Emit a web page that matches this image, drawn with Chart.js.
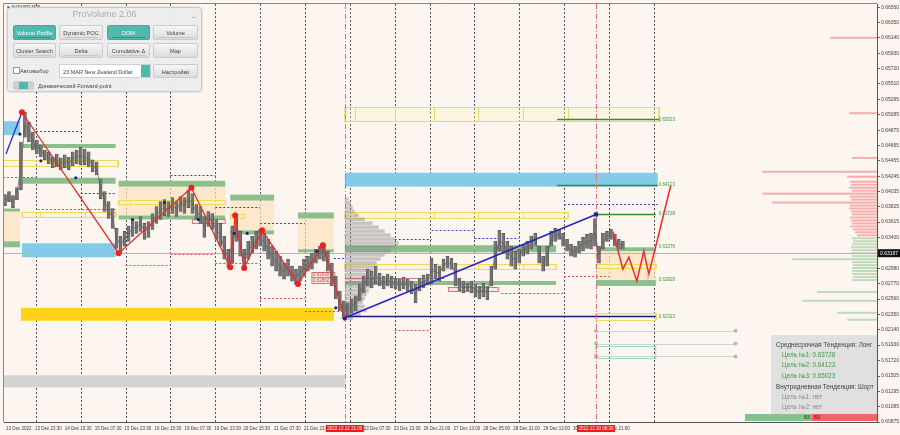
<!DOCTYPE html>
<html>
<head>
<meta charset="utf-8">
<title>AUDUSD M30 - ProVolume</title>
<script src="https://cdn.jsdelivr.net/npm/chart.js@4.4.1/dist/chart.umd.min.js"></script>
<style>
  html, body { margin: 0; padding: 0; background: #fdf5f0; }
  #wrap { position: relative; width: 900px; height: 435px; overflow: hidden; font-family: "Liberation Sans", Arial, sans-serif; }
  #chart { position: absolute; left: 0; top: 0; }

  /* ── ProVolume panel ── */
  #pv { position: absolute; left: 7px; top: 7px; width: 195px; height: 85px; background: rgba(236,236,236,0.96);
        border: 1px solid #c9c9c9; border-radius: 4px; box-shadow: 0 0 2px rgba(0,0,0,0.25); box-sizing: border-box; }
  #pv .ttl { position: absolute; left: 0; top: 1px; width: 100%; text-align: center; font-size: 9px; color: #acacac; }
  #pv .min { position: absolute; left: 184px; top: 1px; font-size: 8px; color: #999; }
  #pv .btn { position: absolute; width: 43px; height: 15px; line-height: 15px; text-align: center; font-size: 5.6px; color: #444;
             background: linear-gradient(#f6f6f6, #dcdcdc); border: 1px solid #cbcbcb; border-radius: 2px; box-sizing: border-box; }
  #pv .btn.on { background: #50b8ac; color: #fff; border-color: #48a89c; }
  #pv .btn i { position: absolute; left: 4px; right: 4px; bottom: 1px; height: 1px; background: #c8c8c8; }
  #pv .btn.on i { background: #3a8d84; }
  #pv .chk { position: absolute; width: 5px; height: 5px; background: #fff; border: 1px solid #999; }
  #pv .lbl { position: absolute; height: 8px; line-height: 8px; font-size: 5.6px; color: #444; white-space: nowrap; }
  #pv .sel { position: absolute; width: 92px; height: 14px; line-height: 14px; background: #fff; border: 1px solid #d0d0d0;
             box-sizing: border-box; font-size: 5.5px; color: #444; padding-left: 3px; }
  #pv .sel span { position: absolute; right: 0; top: 0; width: 9px; height: 12px; background: #50b8ac; }
  #pv .tog { position: absolute; width: 21px; height: 9px; background: #cfcfcf; border-radius: 2px; }
  #pv .tog span { position: absolute; left: 6px; top: 1px; width: 9px; height: 7px; background: #50b8ac; }

  /* ── trend info panel ── */
  #info { position: absolute; left: 771px; top: 335px; width: 106px; height: 79px; background: rgba(222,222,222,0.9); }
  #info div { position: absolute; white-space: nowrap; font-size: 6.3px; line-height: 8px; }
  #info .h { left: 5px; color: #404040; }
  #info .t { left: 11px; color: #3c9a3c; }
  #info .n { left: 11px; color: #8a8a8a; }

  #bal { position: absolute; left: 745px; top: 414px; width: 132px; height: 7px; }
  #bal .g { position: absolute; left: 0; top: 0; width: 67px; height: 7px; background: #86c28e; color: #2c3a2c;
            font-size: 5.5px; line-height: 7px; text-align: right; box-sizing: border-box; padding-right: 2px; }
  #bal .r { position: absolute; left: 67px; top: 0; width: 65px; height: 7px; background: #f06464; color: #6b1010;
            font-size: 5.5px; line-height: 7px; box-sizing: border-box; padding-left: 2px; }
</style>
</head>
<body>
<div id="wrap">
  <canvas id="chart" width="900" height="435"></canvas>

  <div id="pv">
    <div class="ttl">ProVolume 2.06</div><div class="min">_</div>
    <div class="btn on" style="left:5px;top:17px">Volume Profile<i></i></div>
    <div class="btn" style="left:51px;top:17px;width:44px">Dynamic POC<i></i></div>
    <div class="btn on" style="left:99px;top:17px">DOM<i></i></div>
    <div class="btn" style="left:145px;top:17px;width:45px">Volume<i></i></div>
    <div class="btn" style="left:5px;top:35px">Cluster Search<i></i></div>
    <div class="btn" style="left:51px;top:35px;width:44px">Delta<i></i></div>
    <div class="btn" style="left:99px;top:35px">Cumulative Δ<i></i></div>
    <div class="btn" style="left:145px;top:35px;width:45px">Map</div>
    <div class="chk" style="left:5px;top:59px"></div>
    <div class="lbl" style="left:12px;top:59px">Автовыбор</div>
    <div class="sel" style="left:51px;top:56px">23 MAR New Zealand Dollar<span></span></div>
    <div class="btn" style="left:145px;top:56px;width:45px;height:14px;line-height:14px">Настройки</div>
    <div class="tog" style="left:5px;top:73px"><span></span></div>
    <div class="lbl" style="left:30px;top:74px">Динамический Forward-point</div>
  </div>

  <div id="info">
    <div class="h" style="top:6px">Среднесрочная Тенденция: Лонг</div>
    <div class="t" style="top:16px">Цель №1: 0.63728</div>
    <div class="t" style="top:26px">Цель №2: 0.64123</div>
    <div class="t" style="top:37px">Цель №3: 0.65023</div>
    <div class="h" style="top:48px">Внутридневная Тенденция: Шорт</div>
    <div class="n" style="top:58px">Цель №1: нет</div>
    <div class="n" style="top:68px">Цель №2: нет</div>
  </div>

  <div id="bal"><div class="g">83</div><div class="r">83</div></div>
</div>

<script>
// ── Axis data ──
const timeTicks  = [3, 32, 62, 92, 122, 152, 182, 212, 241, 272, 302, 332, 362, 392, 422, 452, 482, 512, 542, 572, 602];
const timeLabels = ['13 Dec 2022', '13 Dec 23:30', '14 Dec 15:30', '15 Dec 07:30', '15 Dec 23:30', '16 Dec 15:30',
                    '19 Dec 07:30', '19 Dec 23:30', '20 Dec 15:30', '21 Dec 07:30', '21 Dec 23:30', '22 Dec 15:30',
                    '23 Dec 07:30', '23 Dec 23:30', '26 Dec 21:00', '27 Dec 13:00', '28 Dec 05:00', '28 Dec 21:00',
                    '29 Dec 13:00', '30 Dec 05:00', '30 Dec 21:00'];
const priceTicks = [0.66560, 0.66350, 0.66140, 0.65930, 0.65720, 0.65510, 0.65295, 0.65085, 0.64875, 0.64665,
                    0.64455, 0.64245, 0.64035, 0.63825, 0.63615, 0.63400, 0.63190, 0.62980, 0.62770, 0.62560,
                    0.62350, 0.62140, 0.61930, 0.61720, 0.61505, 0.61295, 0.61085, 0.60875];
const separatorTimes = [33, 78, 123, 168, 213, 258, 303, 348, 393, 428, 473, 518, 563, 608, 653];
const sessionTimes  = [343, 595];
const sessionLabels = ['2022.12.22 21:00', '2022.12.30 06:30'];
const bidPrice = 0.63189;
const bidLabel = '0.63197';

// ── Candles (M30, one every 4 time units from t=2) ──
const candleStart = 2, candleStep = 4;
const candleHigh = [
  0.63991, 0.64032, 0.63978, 0.64087, 0.64713, 0.65121, 0.64985, 0.64849, 0.64740, 0.64672,
  0.64604, 0.64577, 0.64508, 0.64549, 0.64495, 0.64536, 0.64508, 0.64577, 0.64604, 0.64645,
  0.64617, 0.64577, 0.64468, 0.64440, 0.64209, 0.64032, 0.63896, 0.63801, 0.63529, 0.63420,
  0.63488, 0.63556, 0.63651, 0.63624, 0.63692, 0.63597, 0.63624, 0.63733, 0.63828, 0.63896,
  0.63923, 0.63896, 0.63950, 0.63896, 0.63964, 0.63950, 0.64059, 0.64005, 0.63855, 0.63828,
  0.63692, 0.63760, 0.63733, 0.63651, 0.63597, 0.63420, 0.63243, 0.63556, 0.63705, 0.63488,
  0.63243, 0.63352, 0.63420, 0.63488, 0.63515, 0.63460, 0.63379, 0.63284, 0.63216, 0.63147,
  0.63052, 0.63107, 0.63011, 0.62971, 0.63011, 0.63107, 0.63147, 0.63188, 0.63243, 0.63284,
  0.63297, 0.63216, 0.63052, 0.62875, 0.62671, 0.62535, 0.62508, 0.62562, 0.62603, 0.62766,
  0.62875, 0.62971, 0.62943, 0.63011, 0.62916, 0.62875, 0.62903, 0.62875, 0.62848, 0.62834,
  0.62862, 0.62834, 0.62807, 0.62766, 0.62848, 0.62889, 0.62903, 0.63120, 0.63039, 0.63011,
  0.63107, 0.63147, 0.63120, 0.63052, 0.62848, 0.62807, 0.62780, 0.62807, 0.62766, 0.62739,
  0.62780, 0.62739, 0.63011, 0.63352, 0.63501, 0.63460, 0.63352, 0.63284, 0.63216, 0.63243,
  0.63311, 0.63352, 0.63420, 0.63460, 0.63284, 0.63147, 0.63284, 0.63488, 0.63529, 0.63515,
  0.63460, 0.63379, 0.63311, 0.63284, 0.63352, 0.63406, 0.63447, 0.63460, 0.63665, 0.63284,
  0.63460, 0.63488, 0.63515, 0.63447, 0.63379, 0.63352
];
const candleLow = [
  0.63842, 0.63896, 0.63814, 0.63923, 0.64059, 0.64781, 0.64713, 0.64604, 0.64549, 0.64508,
  0.64468, 0.64413, 0.64359, 0.64372, 0.64332, 0.64359, 0.64332, 0.64386, 0.64413, 0.64400,
  0.64400, 0.64372, 0.64304, 0.64263, 0.63937, 0.63760, 0.63665, 0.63529, 0.63256, 0.63188,
  0.63284, 0.63352, 0.63420, 0.63460, 0.63488, 0.63379, 0.63406, 0.63515, 0.63597, 0.63651,
  0.63705, 0.63692, 0.63733, 0.63692, 0.63760, 0.63733, 0.63814, 0.63733, 0.63651, 0.63597,
  0.63406, 0.63556, 0.63515, 0.63379, 0.63284, 0.63107, 0.62998, 0.63052, 0.63352, 0.63147,
  0.62984, 0.63107, 0.63188, 0.63243, 0.63284, 0.63216, 0.63107, 0.63011, 0.62943, 0.62875,
  0.62834, 0.62875, 0.62807, 0.62766, 0.62807, 0.62875, 0.62943, 0.62971, 0.63052, 0.63107,
  0.63079, 0.62943, 0.62739, 0.62562, 0.62399, 0.62290, 0.62317, 0.62372, 0.62399, 0.62535,
  0.62644, 0.62739, 0.62712, 0.62766, 0.62739, 0.62698, 0.62739, 0.62712, 0.62698, 0.62671,
  0.62698, 0.62671, 0.62630, 0.62508, 0.62671, 0.62712, 0.62753, 0.62766, 0.62834, 0.62807,
  0.62943, 0.62984, 0.62971, 0.62739, 0.62671, 0.62644, 0.62671, 0.62644, 0.62589, 0.62562,
  0.62589, 0.62548, 0.62739, 0.62971, 0.63216, 0.63188, 0.63107, 0.63011, 0.62971, 0.63052,
  0.63147, 0.63175, 0.63243, 0.63297, 0.63052, 0.62943, 0.63011, 0.63284, 0.63352, 0.63379,
  0.63284, 0.63216, 0.63147, 0.63134, 0.63188, 0.63216, 0.63256, 0.63243, 0.63284, 0.63052,
  0.63243, 0.63352, 0.63379, 0.63284, 0.63243, 0.63243
];

// ── ZigZag / trend lines ──
const zigzagTimes  = [19, 116, 189, 228, 233, 242, 260, 296, 321, 343];
const zigzagPrices = [0.65121, 0.63189, 0.64087, 0.62998, 0.63706, 0.62985, 0.63502, 0.62767, 0.63298, 0.62290];
const leadTimes  = [3, 19];
const leadPrices = [0.64550, 0.65121];
const trendTimes  = [343, 595];
const trendPrices = [0.62304, 0.63720];
const forecastTimes  = [612, 622, 628, 636, 643, 648, 655, 670];
const forecastPrices = [0.63488, 0.62971, 0.63134, 0.62808, 0.63216, 0.62903, 0.63284, 0.64114];
const fractalTimes  = [17, 38, 73, 130, 162, 196, 232, 245, 315, 334];
const fractalPrices = [0.64822, 0.64455, 0.64223, 0.63651, 0.63883, 0.63651, 0.63461, 0.63461, 0.63216, 0.62440];

// ── Zones: [fromTime, toTime, upperPrice, lowerPrice] ──
const greenZones = [
  [20, 113, 0.64686, 0.64631], [20, 113, 0.64223, 0.64141], [0, 17, 0.63801, 0.63760], [0, 17, 0.63352, 0.63270],
  [116, 223, 0.64182, 0.64101], [116, 223, 0.63706, 0.63651], [228, 272, 0.63992, 0.63910], [228, 272, 0.63502, 0.63447],
  [296, 332, 0.63747, 0.63665], [296, 332, 0.63243, 0.63202], [343, 555, 0.63298, 0.63202], [343, 555, 0.62808, 0.62753],
  [595, 655, 0.63270, 0.63216], [595, 655, 0.62821, 0.62740]
];
const orangeZones = [
  [0, 17, 0.63760, 0.63352], [116, 223, 0.64101, 0.63706], [228, 272, 0.63910, 0.63502],
  [296, 332, 0.63665, 0.63243], [595, 655, 0.63216, 0.62821]
];
const blueZones = [[0, 17, 0.64999, 0.64808], [19, 113, 0.63325, 0.63134], [343, 657, 0.64291, 0.64101]];
const goldZones = [[18, 332, 0.62440, 0.62263]];
const grayZones = [[0, 343, 0.61515, 0.61351]];
// yellow outlined boxes: [segment times], upper, lower
const yellowBoxes = [
  [[0, 18, 82, 115], 0.64468, 0.64386],
  [[19, 37, 82, 113], 0.63760, 0.63679],
  [[116, 127, 180, 223], 0.63924, 0.63869],
  [[228, 242], 0.63733, 0.63665],
  [[343, 353, 393, 432, 477, 522, 567, 658], 0.65189, 0.64999],
  [[343, 353, 393, 432, 477, 522, 567], 0.63747, 0.63665],
  [[343, 393, 432, 477, 522, 555], 0.63039, 0.62971],
  [[595, 655], 0.63039, 0.62985],
  [[595, 655], 0.62372, 0.62277]
];
const redBoxes = [[190, 223, 0.63651, 0.63597], [447, 497, 0.62726, 0.62671], [310, 333, 0.62930, 0.62862], [310, 333, 0.62862, 0.62780]];
const redBoxLabels = ['', '', '0.62930', '0.62862'];
// dotted levels: [fromTime, toTime, price]
const blueDotted = [
  [33, 78, 0.64863], [78, 113, 0.64019], [168, 213, 0.64264], [213, 258, 0.63828], [258, 303, 0.63597],
  [332, 343, 0.63121], [343, 393, 0.63189], [393, 430, 0.63379], [430, 473, 0.63502], [473, 518, 0.63393], [563, 657, 0.63869]
];
const redDotted = [
  [0, 33, 0.64237], [35, 113, 0.63788], [123, 168, 0.63025], [168, 213, 0.63175], [213, 258, 0.63053],
  [258, 303, 0.62576], [303, 343, 0.62399], [393, 428, 0.62141], [500, 563, 0.62644], [563, 608, 0.62876]
];
const targetLines = [[556, 658, 0.65023], [556, 657, 0.64123], [595, 655, 0.63728]];
const baseLine = [343, 655, 0.62323];
const levelLabels = ['0.65023', '0.64123', '0.63728', '0.63276', '0.62828', '0.62323'];
const pendingLevels = [0.62127, 0.61950, 0.61773];
const pendingFrom = 595, pendingTo = 735;
const pendingBox = [595, 655, 0.61923, 0.61746];

// ── Volume profile from 22 Dec 21:00 ──
const profileStart = 343;
const profilePrice = [0.63951, 0.63897, 0.63842, 0.63788, 0.63733, 0.63679, 0.63624, 0.63570, 0.63515, 0.63461,
                      0.63407, 0.63352, 0.63298, 0.63243, 0.63189, 0.63134, 0.63080, 0.63025, 0.62971, 0.62917,
                      0.62862, 0.62808, 0.62753, 0.62699, 0.62644, 0.62590, 0.62536, 0.62481, 0.62427, 0.62372, 0.62318];
const profileLen   = [4, 6, 8, 10, 14, 20, 28, 34, 40, 46, 50, 54, 52, 46, 40, 36, 32, 30, 28, 26,
                      30, 28, 26, 24, 22, 20, 18, 20, 22, 16, 8];
const pocPrice = 0.62848, pocTo = 443;

// ── Right-edge order book histogram ──
const sellPrice = [0.66142, 0.65108, 0.64495, 0.64305, 0.64237, 0.64169, 0.64128, 0.64087, 0.64046, 0.64005,
                   0.63965, 0.63924, 0.63883, 0.63842, 0.63801, 0.63760, 0.63720, 0.63679, 0.63638, 0.63597,
                   0.63556, 0.63515, 0.63475, 0.63434];
const sellLen   = [47, 28, 25, 115, 30, 27, 26, 28, 25, 115, 27, 26, 105, 27, 28, 26, 25, 27, 26, 25, 27, 24, 22, 20];
const buyPrice  = [0.63393, 0.63352, 0.63311, 0.63270, 0.63230, 0.63189, 0.63148, 0.63107, 0.63066, 0.63025,
                   0.62985, 0.62944, 0.62903, 0.62862, 0.62821, 0.62658, 0.62536, 0.62372, 0.62277];
const buyLen    = [25, 24, 25, 26, 25, 26, 25, 85, 25, 24, 25, 25, 25, 24, 25, 60, 75, 40, 30];

// ── Overlay drawing through the chart scales ──
function zoneRect(ctx, x, y, z, color) {
  const x0 = x.getPixelForValue(z[0]), x1 = x.getPixelForValue(z[1]);
  const y0 = y.getPixelForValue(z[2]), y1 = y.getPixelForValue(z[3]);
  ctx.fillStyle = color;
  ctx.fillRect(x0, y0, x1 - x0, y1 - y0);
}

function hLine(ctx, x, y, t0, t1, p, color, width, dash) {
  const py = Math.round(y.getPixelForValue(p)) + 0.5;
  ctx.strokeStyle = color;
  ctx.lineWidth = width;
  ctx.setLineDash(dash || []);
  ctx.beginPath();
  ctx.moveTo(x.getPixelForValue(t0), py);
  ctx.lineTo(x.getPixelForValue(t1), py);
  ctx.stroke();
  ctx.setLineDash([]);
}

const overlay = {
  id: 'overlay',
  beforeDatasetsDraw(chart) {
    const { ctx, chartArea: a, scales: { x, y } } = chart;
    ctx.save();
    ctx.beginPath();
    ctx.rect(a.left, a.top, a.width, a.height);
    ctx.clip();

    // period separators
    ctx.strokeStyle = '#555';
    ctx.lineWidth = 1;
    ctx.setLineDash([2, 2]);
    separatorTimes.forEach(t => {
      const px = Math.round(x.getPixelForValue(t)) + 0.5;
      ctx.beginPath(); ctx.moveTo(px, a.top); ctx.lineTo(px, a.bottom); ctx.stroke();
    });
    ctx.setLineDash([]);

    grayZones.forEach(z => zoneRect(ctx, x, y, z, '#d3d3d3'));
    goldZones.forEach(z => zoneRect(ctx, x, y, z, '#ffd21a'));
    blueZones.forEach(z => zoneRect(ctx, x, y, z, '#84cae9'));
    orangeZones.forEach(z => zoneRect(ctx, x, y, z, 'rgba(252,226,190,0.7)'));
    greenZones.forEach(z => zoneRect(ctx, x, y, z, '#8dbf8d'));

    // yellow outlined boxes
    yellowBoxes.forEach(([ts, hi, lo]) => {
      const y0 = Math.round(y.getPixelForValue(hi)) + 0.5, y1 = Math.round(y.getPixelForValue(lo)) + 0.5;
      const x0 = x.getPixelForValue(ts[0]), x1 = x.getPixelForValue(ts[ts.length - 1]);
      ctx.fillStyle = 'rgba(255,246,196,0.35)';
      ctx.fillRect(x0, y0, x1 - x0, y1 - y0);
      ctx.strokeStyle = '#f0d75e';
      ctx.lineWidth = 1;
      ctx.strokeRect(x0, y0, x1 - x0, y1 - y0);
      ts.forEach(t => {
        const px = Math.round(x.getPixelForValue(t)) + 0.5;
        ctx.beginPath(); ctx.moveTo(px, y0); ctx.lineTo(px, y1); ctx.stroke();
      });
    });

    // red outlined boxes
    redBoxes.forEach((z, i) => {
      const x0 = x.getPixelForValue(z[0]), x1 = x.getPixelForValue(z[1]);
      const y0 = Math.round(y.getPixelForValue(z[2])) + 0.5, y1 = Math.round(y.getPixelForValue(z[3])) + 0.5;
      ctx.fillStyle = 'rgba(255,215,215,0.55)';
      ctx.fillRect(x0, y0, x1 - x0, y1 - y0);
      ctx.strokeStyle = '#e07474';
      ctx.strokeRect(x0, y0, x1 - x0, y1 - y0);
      if (redBoxLabels[i]) {
        ctx.fillStyle = '#d04848';
        ctx.font = '4.5px "Liberation Sans"';
        ctx.textBaseline = 'middle';
        ctx.fillText(redBoxLabels[i], x0 + 1, (y0 + y1) / 2);
      }
    });

    blueDotted.forEach(l => hLine(ctx, x, y, l[0], l[1], l[2], '#3a3ac8', 1, [2, 2]));
    redDotted.forEach(l => hLine(ctx, x, y, l[0], l[1], l[2], '#dd4b4b', 1, [2, 2]));

    // volume profile
    ctx.fillStyle = 'rgba(135,135,135,0.45)';
    profilePrice.forEach((p, i) => {
      const next = i < profilePrice.length - 1 ? profilePrice[i + 1] : p - (profilePrice[i - 1] - p);
      const y0 = y.getPixelForValue(p), y1 = y.getPixelForValue(next);
      const x0 = x.getPixelForValue(profileStart), x1 = x.getPixelForValue(profileStart + profileLen[i]);
      ctx.fillRect(x0, y0, x1 - x0, y1 - y0 - 0.5);
    });
    hLine(ctx, x, y, profileStart, pocTo, pocPrice, 'rgba(200,80,80,0.75)', 1);

    targetLines.forEach(l => hLine(ctx, x, y, l[0], l[1], l[2], '#2f8f2f', 1.5));
    hLine(ctx, x, y, baseLine[0], baseLine[1], baseLine[2], '#1c1c7c', 1.5);

    // pending target markers
    pendingLevels.forEach(p => {
      hLine(ctx, x, y, pendingFrom, pendingTo, p, '#c8d6d6', 1);
      [pendingFrom, pendingTo].forEach(t => {
        ctx.fillStyle = '#b8b8b8';
        ctx.beginPath();
        ctx.arc(x.getPixelForValue(t), y.getPixelForValue(p), 2, 0, Math.PI * 2);
        ctx.fill();
      });
    });
    {
      const x0 = x.getPixelForValue(pendingBox[0]), x1 = x.getPixelForValue(pendingBox[1]);
      const y0 = Math.round(y.getPixelForValue(pendingBox[2])) + 0.5, y1 = Math.round(y.getPixelForValue(pendingBox[3])) + 0.5;
      ctx.strokeStyle = '#9fd6d6';
      ctx.strokeRect(x0, y0, x1 - x0, y1 - y0);
    }

    // order book on the right edge
    const edge = x.max;
    ctx.fillStyle = 'rgba(240,105,105,0.5)';
    sellPrice.forEach((p, i) => {
      const py = y.getPixelForValue(p);
      const x0 = x.getPixelForValue(edge - sellLen[i]);
      ctx.fillRect(x0, py - 1, x.getPixelForValue(edge) - x0, 2);
    });
    ctx.fillStyle = 'rgba(105,180,115,0.42)';
    buyPrice.forEach((p, i) => {
      const py = y.getPixelForValue(p);
      const x0 = x.getPixelForValue(edge - buyLen[i]);
      ctx.fillRect(x0, py - 1, x.getPixelForValue(edge) - x0, 2);
    });

    // bid line
    hLine(ctx, x, y, x.min, x.max, bidPrice, '#b4b4b4', 1);

    // session start marks
    ctx.strokeStyle = '#e07070';
    ctx.setLineDash([5, 2, 1, 2]);
    sessionTimes.forEach(t => {
      const px = Math.round(x.getPixelForValue(t)) + 0.5;
      ctx.beginPath(); ctx.moveTo(px, a.top); ctx.lineTo(px, a.bottom); ctx.stroke();
    });
    ctx.setLineDash([]);
    ctx.restore();
  },
  afterDraw(chart) {
    const { ctx, chartArea: a, scales: { x, y } } = chart;
    ctx.save();
    // frame
    ctx.strokeStyle = '#8a8a8a';
    ctx.lineWidth = 1;
    ctx.beginPath();
    ctx.moveTo(a.left - 0.5, a.bottom); ctx.lineTo(a.left - 0.5, a.top - 0.5); ctx.lineTo(a.right, a.top - 0.5);
    ctx.stroke();

    // level labels
    ctx.font = '4.5px "Liberation Sans"';
    ctx.textBaseline = 'middle';
    ctx.fillStyle = '#3a9a3a';
    levelLabels.forEach(s => ctx.fillText(s, x.getPixelForValue(658), y.getPixelForValue(parseFloat(s))));

    // forecast arrow
    ctx.fillStyle = '#ff7a7a';
    ctx.font = '8px "DejaVu Sans"';
    ctx.textAlign = 'center';
    ctx.fillText('⇧', x.getPixelForValue(647), y.getPixelForValue(0.62862));

    // session labels on the time axis
    ctx.font = '4.5px "Liberation Sans"';
    sessionTimes.forEach((t, i) => {
      const px = x.getPixelForValue(t);
      ctx.fillStyle = '#ee1c1c';
      ctx.fillRect(px - 19, a.bottom + 3, 38, 7);
      ctx.fillStyle = '#fff';
      ctx.fillText(sessionLabels[i], px, a.bottom + 6.5);
    });

    // bid label
    const by = y.getPixelForValue(bidPrice);
    ctx.fillStyle = '#111';
    ctx.fillRect(a.right + 1, by - 4, 22, 8);
    ctx.fillStyle = '#fff';
    ctx.textAlign = 'left';
    ctx.font = '5px "Liberation Sans"';
    ctx.fillText(bidLabel, a.right + 3, by);

    // symbol caption
    ctx.fillStyle = '#333';
    ctx.font = '4.5px "Liberation Sans"';
    ctx.fillText('▾ AUDUSD,M30', a.left + 3, a.top + 4);
    ctx.restore();
  }
};

// ── Build chart ──
const candleTime = i => candleStart + candleStep * i;
const pts = (ts, ps) => ts.map((t, i) => ({ x: t, y: ps[i] }));

new Chart(document.getElementById('chart'), {
  type: 'line',
  data: {
    datasets: [
      {
        type: 'bar',
        data: candleHigh.map((h, i) => ({ x: candleTime(i), y: [candleLow[i], h] })),
        backgroundColor: '#767676',
        borderColor: '#505050',
        borderWidth: 0.6,
        borderSkipped: false,
        barThickness: 3,
        order: 6
      },
      {
        data: candleHigh.map((h, i) => ({ x: candleTime(i), y: (h + candleLow[i]) / 2 })),
        borderColor: 'rgba(95,95,95,0.7)',
        borderWidth: 1,
        pointRadius: 0,
        order: 5
      },
      {
        data: pts(zigzagTimes, zigzagPrices),
        borderColor: '#e3302a',
        borderWidth: 1.3,
        pointRadius: [3, 3, 3, 3, 3, 3, 3, 3, 3, 2],
        pointBackgroundColor: ['#ee2020', '#ee2020', '#ee2020', '#ee2020', '#ee2020', '#ee2020', '#ee2020', '#ee2020', '#ee2020', '#2323a0'],
        pointBorderWidth: 0,
        order: 2
      },
      {
        data: pts(leadTimes, leadPrices),
        borderColor: '#2a2acc',
        borderWidth: 1.3,
        pointRadius: 0,
        order: 2
      },
      {
        data: pts(trendTimes, trendPrices),
        borderColor: '#2424c4',
        borderWidth: 1.5,
        pointRadius: [0, 3],
        pointStyle: 'rect',
        pointBackgroundColor: '#23238a',
        pointBorderWidth: 0,
        order: 2
      },
      {
        data: pts(forecastTimes, forecastPrices),
        borderColor: '#ee2a2a',
        borderWidth: 1.5,
        pointRadius: 0,
        order: 1
      },
      {
        data: pts(fractalTimes, fractalPrices),
        showLine: false,
        pointRadius: 1.6,
        pointBackgroundColor: '#1f1f7a',
        pointBorderWidth: 0,
        order: 1
      }
    ]
  },
  options: {
    responsive: false,
    devicePixelRatio: 1,
    animation: false,
    layout: { padding: { left: 1, top: 1, right: 0, bottom: 0 } },
    plugins: { legend: { display: false }, tooltip: { enabled: false } },
    elements: { line: { tension: 0 } },
    scales: {
      x: {
        type: 'linear',
        min: 1,
        max: 877,
        offset: false,
        grid: { display: false, drawTicks: false, tickLength: 0 },
        border: { display: true, color: '#555' },
        afterBuildTicks: s => { s.ticks = timeTicks.map(v => ({ value: v })); },
        afterFit: s => { s.height = 13; },
        ticks: {
          autoSkip: false,
          maxRotation: 0,
          align: 'start',
          padding: 4,
          color: '#3a3a3a',
          font: { family: 'Liberation Sans', size: 4.5 },
          callback: (v, i) => timeLabels[i]
        }
      },
      y: {
        type: 'linear',
        position: 'right',
        min: 0.60875,
        max: 0.66605,
        grid: { drawOnChartArea: false, tickLength: 3, color: '#666' },
        border: { display: true, color: '#555' },
        afterBuildTicks: s => { s.ticks = priceTicks.map(v => ({ value: v })); },
        afterFit: s => { s.width = 23; },
        ticks: {
          autoSkip: false,
          padding: 1,
          color: '#444',
          font: { family: 'Liberation Sans', size: 5 },
          callback: v => v.toFixed(5)
        }
      }
    }
  },
  plugins: [overlay]
});
</script>
</body>
</html>
